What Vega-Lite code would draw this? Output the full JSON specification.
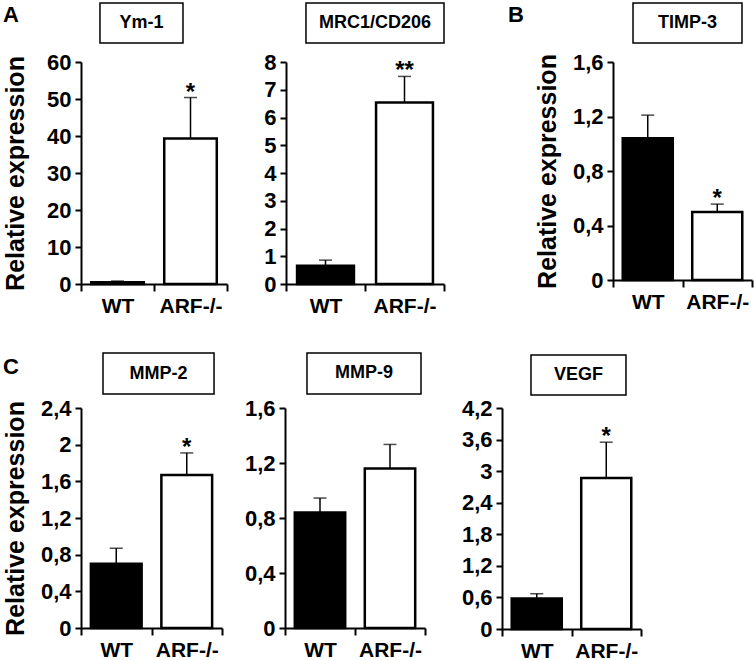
{
  "$schema": "https://vega.github.io/schema/vega-lite/v6.json",
  "padding": {"left": 2, "top": 2, "right": 1, "bottom": 2},
  "background": "white",
  "config": {
    "locale": {"number": {"decimal": ",", "thousands": ".", "grouping": [3], "currency": ["", " €"]}},
    "view": {"stroke": null},
    "font": "Liberation Sans",
    "axis": {
      "domainColor": "black", "domainWidth": 2,
      "tickColor": "black", "tickWidth": 2, "tickSize": 6,
      "labelColor": "black", "labelFont": "Liberation Sans", "labelFontSize": 21, "labelFontWeight": "bold",
      "titleColor": "black", "titleFont": "Liberation Sans", "titleFontSize": 25, "titleFontWeight": "bold",
      "grid": false
    },
    "axisX": {"labelAngle": 0, "tickBand": "extent", "labelPadding": 4, "tickSize": 7},
    "axisY": {"labelPadding": 4, "titlePadding": 19, "format": ".6~g", "labelFontSize": 22, "labelOverlap": false}
  },
  "datasets": {
    "expr": [
      {"panel": "A", "gene": "Ym-1", "genotype": "WT", "mean": 0.5, "upper": 0.8, "sig": ""},
      {"panel": "A", "gene": "Ym-1", "genotype": "ARF-/-", "mean": 39.3, "upper": 50.4, "sig": "*"},
      {"panel": "", "gene": "MRC1/CD206", "genotype": "WT", "mean": 0.66, "upper": 0.86, "sig": ""},
      {"panel": "", "gene": "MRC1/CD206", "genotype": "ARF-/-", "mean": 6.54, "upper": 7.48, "sig": "**"},
      {"panel": "B", "gene": "TIMP-3", "genotype": "WT", "mean": 1.04, "upper": 1.21, "sig": ""},
      {"panel": "B", "gene": "TIMP-3", "genotype": "ARF-/-", "mean": 0.5, "upper": 0.557, "sig": "*"},
      {"panel": "C", "gene": "MMP-2", "genotype": "WT", "mean": 0.7, "upper": 0.87, "sig": ""},
      {"panel": "C", "gene": "MMP-2", "genotype": "ARF-/-", "mean": 1.67, "upper": 1.91, "sig": "*"},
      {"panel": "", "gene": "MMP-9", "genotype": "WT", "mean": 0.84, "upper": 0.945, "sig": ""},
      {"panel": "", "gene": "MMP-9", "genotype": "ARF-/-", "mean": 1.16, "upper": 1.335, "sig": ""},
      {"panel": "", "gene": "VEGF", "genotype": "WT", "mean": 0.58, "upper": 0.67, "sig": ""},
      {"panel": "", "gene": "VEGF", "genotype": "ARF-/-", "mean": 2.87, "upper": 3.55, "sig": "*"}
    ],
    "blank": [{"t": ""}]
  },
  "spacing": 36,
  "vconcat": [
    {
      "bounds": "flush",
      "spacing": 0,
      "hconcat": [
        {
          "width": 146, "height": 222,
          "data": {"name": "expr"},
          "transform": [{"filter": "datum.gene === 'Ym-1'"}],
          "encoding": {"x": {"field": "genotype", "type": "nominal", "sort": ["WT", "ARF-/-"], "scale": {"domain": ["WT", "ARF-/-"], "paddingInner": 0, "paddingOuter": 0}, "axis": {"title": null}}},
          "layer": [
            {"mark": {"type": "bar", "width": {"band": 0.72}, "stroke": "black", "strokeWidth": 2.5},
             "encoding": {"y": {"field": "mean", "type": "quantitative", "scale": {"domain": [0, 60], "nice": false}, "axis": {"values": [0, 10, 20, 30, 40, 50, 60], "title": "Relative expression", "minExtent": 34, "maxExtent": 34}},
                          "fill": {"field": "genotype", "type": "nominal", "scale": {"domain": ["WT", "ARF-/-"], "range": ["black", "white"]}, "legend": null}}},
            {"mark": {"type": "rule", "strokeWidth": 1.5, "color": "black"}, "encoding": {"y": {"field": "mean", "type": "quantitative", "axis": {"values": [0, 10, 20, 30, 40, 50, 60], "title": "Relative expression", "minExtent": 34, "maxExtent": 34}}, "y2": {"field": "upper"}}},
            {"mark": {"type": "tick", "size": 13, "thickness": 1.5, "color": "black"}, "encoding": {"y": {"field": "upper", "type": "quantitative", "axis": {"values": [0, 10, 20, 30, 40, 50, 60], "title": "Relative expression", "minExtent": 34, "maxExtent": 34}}}},
            {"mark": {"type": "text", "fontSize": 24, "fontWeight": "bold", "baseline": "alphabetic", "dy": 2, "color": "black"}, "encoding": {"y": {"field": "upper", "type": "quantitative", "axis": {"values": [0, 10, 20, 30, 40, 50, 60], "title": "Relative expression", "minExtent": 34, "maxExtent": 34}}, "text": {"field": "sig"}}},
            {"transform": [{"filter": "datum.genotype === 'WT'"}], "mark": {"type": "rect", "fill": "transparent", "stroke": "black", "strokeWidth": 1.5},
             "encoding": {"x": {"datum": "WT", "type": "nominal", "bandPosition": 0.26}, "x2": {"datum": "ARF-/-", "bandPosition": 0.397}, "y": {"datum": 75.95, "type": "quantitative", "axis": {"values": [0, 10, 20, 30, 40, 50, 60], "title": "Relative expression", "minExtent": 34, "maxExtent": 34}}, "y2": {"datum": 65.14}}},
            {"transform": [{"filter": "datum.genotype === 'WT'"}], "mark": {"type": "text", "fontSize": 18, "fontWeight": "bold", "baseline": "middle", "color": "black"},
             "encoding": {"x": {"datum": "WT", "type": "nominal", "bandPosition": 0.829}, "y": {"datum": 70.54, "type": "quantitative", "axis": {"values": [0, 10, 20, 30, 40, 50, 60], "title": "Relative expression", "minExtent": 34, "maxExtent": 34}}, "text": {"field": "gene"}}},
            {"transform": [{"filter": "datum.genotype === 'WT'"}], "mark": {"type": "text", "fontSize": 22, "fontWeight": "bold", "baseline": "alphabetic", "dx": -70, "dy": -40, "color": "black"},
             "encoding": {"x": {"datum": "WT", "type": "nominal", "bandPosition": 0}, "y": {"datum": 60, "type": "quantitative", "axis": {"values": [0, 10, 20, 30, 40, 50, 60], "title": "Relative expression", "minExtent": 34, "maxExtent": 34}}, "text": {"field": "panel"}}}
          ]
        },
        {"width": 59, "height": 222, "data": {"name": "blank"}, "mark": "text", "encoding": {"text": {"field": "t"}}},
        {
          "width": 158, "height": 222,
          "data": {"name": "expr"},
          "transform": [{"filter": "datum.gene === 'MRC1/CD206'"}],
          "encoding": {"x": {"field": "genotype", "type": "nominal", "sort": ["WT", "ARF-/-"], "scale": {"domain": ["WT", "ARF-/-"], "paddingInner": 0, "paddingOuter": 0}, "axis": {"title": null}}},
          "layer": [
            {"mark": {"type": "bar", "width": {"band": 0.72}, "stroke": "black", "strokeWidth": 2.5},
             "encoding": {"y": {"field": "mean", "type": "quantitative", "scale": {"domain": [0, 8], "nice": false}, "axis": {"values": [0, 1, 2, 3, 4, 5, 6, 7, 8], "title": null}},
                          "fill": {"field": "genotype", "type": "nominal", "scale": {"domain": ["WT", "ARF-/-"], "range": ["black", "white"]}, "legend": null}}},
            {"mark": {"type": "rule", "strokeWidth": 1.5, "color": "black"}, "encoding": {"y": {"field": "mean", "type": "quantitative", "axis": {"values": [0, 1, 2, 3, 4, 5, 6, 7, 8], "title": null}}, "y2": {"field": "upper"}}},
            {"mark": {"type": "tick", "size": 13, "thickness": 1.5, "color": "black"}, "encoding": {"y": {"field": "upper", "type": "quantitative", "axis": {"values": [0, 1, 2, 3, 4, 5, 6, 7, 8], "title": null}}}},
            {"mark": {"type": "text", "fontSize": 24, "fontWeight": "bold", "baseline": "alphabetic", "dy": 2, "color": "black"}, "encoding": {"y": {"field": "upper", "type": "quantitative", "axis": {"values": [0, 1, 2, 3, 4, 5, 6, 7, 8], "title": null}}, "text": {"field": "sig"}}},
            {"transform": [{"filter": "datum.genotype === 'WT'"}], "mark": {"type": "rect", "fill": "transparent", "stroke": "black", "strokeWidth": 1.5},
             "encoding": {"x": {"datum": "WT", "type": "nominal", "bandPosition": 0.253}, "x2": {"datum": "ARF-/-", "bandPosition": 1.0}, "y": {"datum": 10.126, "type": "quantitative", "axis": {"values": [0, 1, 2, 3, 4, 5, 6, 7, 8], "title": null}}, "y2": {"datum": 8.685}}},
            {"transform": [{"filter": "datum.genotype === 'WT'"}], "mark": {"type": "text", "fontSize": 18, "fontWeight": "bold", "baseline": "middle", "color": "black"},
             "encoding": {"x": {"datum": "ARF-/-", "type": "nominal", "bandPosition": 0.127}, "y": {"datum": 9.405, "type": "quantitative", "axis": {"values": [0, 1, 2, 3, 4, 5, 6, 7, 8], "title": null}}, "text": {"field": "gene"}}}
          ]
        },
        {"width": 169, "height": 222, "data": {"name": "blank"}, "mark": "text", "encoding": {"text": {"field": "t"}}},
        {
          "width": 139, "height": 218,
          "data": {"name": "expr"},
          "transform": [{"filter": "datum.gene === 'TIMP-3'"}],
          "encoding": {"x": {"field": "genotype", "type": "nominal", "sort": ["WT", "ARF-/-"], "scale": {"domain": ["WT", "ARF-/-"], "paddingInner": 0, "paddingOuter": 0}, "axis": {"title": null}}},
          "layer": [
            {"mark": {"type": "bar", "width": {"band": 0.72}, "stroke": "black", "strokeWidth": 2.5},
             "encoding": {"y": {"field": "mean", "type": "quantitative", "scale": {"domain": [0, 1.6], "nice": false}, "axis": {"values": [0, 0.4, 0.8, 1.2, 1.6], "title": "Relative expression", "minExtent": 34, "maxExtent": 34}},
                          "fill": {"field": "genotype", "type": "nominal", "scale": {"domain": ["WT", "ARF-/-"], "range": ["black", "white"]}, "legend": null}}},
            {"mark": {"type": "rule", "strokeWidth": 1.5, "color": "black"}, "encoding": {"y": {"field": "mean", "type": "quantitative", "axis": {"values": [0, 0.4, 0.8, 1.2, 1.6], "title": "Relative expression", "minExtent": 34, "maxExtent": 34}}, "y2": {"field": "upper"}}},
            {"mark": {"type": "tick", "size": 13, "thickness": 1.5, "color": "black"}, "encoding": {"y": {"field": "upper", "type": "quantitative", "axis": {"values": [0, 0.4, 0.8, 1.2, 1.6], "title": "Relative expression", "minExtent": 34, "maxExtent": 34}}}},
            {"mark": {"type": "text", "fontSize": 24, "fontWeight": "bold", "baseline": "alphabetic", "dy": 2, "color": "black"}, "encoding": {"y": {"field": "upper", "type": "quantitative", "axis": {"values": [0, 0.4, 0.8, 1.2, 1.6], "title": "Relative expression", "minExtent": 34, "maxExtent": 34}}, "text": {"field": "sig"}}},
            {"transform": [{"filter": "datum.genotype === 'WT'"}], "mark": {"type": "rect", "fill": "transparent", "stroke": "black", "strokeWidth": 1.5},
             "encoding": {"x": {"datum": "WT", "type": "nominal", "bandPosition": 0.288}, "x2": {"datum": "ARF-/-", "bandPosition": 0.856}, "y": {"datum": 2.033, "type": "quantitative", "axis": {"values": [0, 0.4, 0.8, 1.2, 1.6], "title": "Relative expression", "minExtent": 34, "maxExtent": 34}}, "y2": {"datum": 1.7394}}},
            {"transform": [{"filter": "datum.genotype === 'WT'"}], "mark": {"type": "text", "fontSize": 18, "fontWeight": "bold", "baseline": "middle", "color": "black"},
             "encoding": {"x": {"datum": "ARF-/-", "type": "nominal", "bandPosition": 0.072}, "y": {"datum": 1.886, "type": "quantitative", "axis": {"values": [0, 0.4, 0.8, 1.2, 1.6], "title": "Relative expression", "minExtent": 34, "maxExtent": 34}}, "text": {"field": "gene"}}},
            {"transform": [{"filter": "datum.genotype === 'WT'"}], "mark": {"type": "text", "fontSize": 22, "fontWeight": "bold", "baseline": "alphabetic", "dx": -97, "dy": -40, "color": "black"},
             "encoding": {"x": {"datum": "WT", "type": "nominal", "bandPosition": 0}, "y": {"datum": 1.6, "type": "quantitative", "axis": {"values": [0, 0.4, 0.8, 1.2, 1.6], "title": "Relative expression", "minExtent": 34, "maxExtent": 34}}, "text": {"field": "panel"}}}
          ]
        }
      ]
    },
    {
      "bounds": "flush",
      "spacing": 0,
      "hconcat": [
        {
          "width": 141, "height": 220,
          "data": {"name": "expr"},
          "transform": [{"filter": "datum.gene === 'MMP-2'"}],
          "encoding": {"x": {"field": "genotype", "type": "nominal", "sort": ["WT", "ARF-/-"], "scale": {"domain": ["WT", "ARF-/-"], "paddingInner": 0, "paddingOuter": 0}, "axis": {"title": null}}},
          "layer": [
            {"mark": {"type": "bar", "width": {"band": 0.72}, "stroke": "black", "strokeWidth": 2.5},
             "encoding": {"y": {"field": "mean", "type": "quantitative", "scale": {"domain": [0, 2.4], "nice": false}, "axis": {"values": [0, 0.4, 0.8, 1.2, 1.6, 2, 2.4], "title": "Relative expression", "minExtent": 34, "maxExtent": 34}},
                          "fill": {"field": "genotype", "type": "nominal", "scale": {"domain": ["WT", "ARF-/-"], "range": ["black", "white"]}, "legend": null}}},
            {"mark": {"type": "rule", "strokeWidth": 1.5, "color": "black"}, "encoding": {"y": {"field": "mean", "type": "quantitative", "axis": {"values": [0, 0.4, 0.8, 1.2, 1.6, 2, 2.4], "title": "Relative expression", "minExtent": 34, "maxExtent": 34}}, "y2": {"field": "upper"}}},
            {"mark": {"type": "tick", "size": 13, "thickness": 1.5, "color": "black"}, "encoding": {"y": {"field": "upper", "type": "quantitative", "axis": {"values": [0, 0.4, 0.8, 1.2, 1.6, 2, 2.4], "title": "Relative expression", "minExtent": 34, "maxExtent": 34}}}},
            {"mark": {"type": "text", "fontSize": 24, "fontWeight": "bold", "baseline": "alphabetic", "dy": 2, "color": "black"}, "encoding": {"y": {"field": "upper", "type": "quantitative", "axis": {"values": [0, 0.4, 0.8, 1.2, 1.6, 2, 2.4], "title": "Relative expression", "minExtent": 34, "maxExtent": 34}}, "text": {"field": "sig"}}},
            {"transform": [{"filter": "datum.genotype === 'WT'"}], "mark": {"type": "rect", "fill": "transparent", "stroke": "black", "strokeWidth": 1.5},
             "encoding": {"x": {"datum": "WT", "type": "nominal", "bandPosition": 0.312}, "x2": {"datum": "ARF-/-", "bandPosition": 0.887}, "y": {"datum": 3.0, "type": "quantitative", "axis": {"values": [0, 0.4, 0.8, 1.2, 1.6, 2, 2.4], "title": "Relative expression", "minExtent": 34, "maxExtent": 34}}, "y2": {"datum": 2.5527}}},
            {"transform": [{"filter": "datum.genotype === 'WT'"}], "mark": {"type": "text", "fontSize": 18, "fontWeight": "bold", "baseline": "middle", "color": "black"},
             "encoding": {"x": {"datum": "ARF-/-", "type": "nominal", "bandPosition": 0.099}, "y": {"datum": 2.776, "type": "quantitative", "axis": {"values": [0, 0.4, 0.8, 1.2, 1.6, 2, 2.4], "title": "Relative expression", "minExtent": 34, "maxExtent": 34}}, "text": {"field": "gene"}}},
            {"transform": [{"filter": "datum.genotype === 'WT'"}], "mark": {"type": "text", "fontSize": 22, "fontWeight": "bold", "baseline": "alphabetic", "dx": -70, "dy": -34, "color": "black"},
             "encoding": {"x": {"datum": "WT", "type": "nominal", "bandPosition": 0}, "y": {"datum": 2.4, "type": "quantitative", "axis": {"values": [0, 0.4, 0.8, 1.2, 1.6, 2, 2.4], "title": "Relative expression", "minExtent": 34, "maxExtent": 34}}, "text": {"field": "panel"}}}
          ]
        },
        {"width": 63, "height": 220, "data": {"name": "blank"}, "mark": "text", "encoding": {"text": {"field": "t"}}},
        {
          "width": 140, "height": 220,
          "data": {"name": "expr"},
          "transform": [{"filter": "datum.gene === 'MMP-9'"}],
          "encoding": {"x": {"field": "genotype", "type": "nominal", "sort": ["WT", "ARF-/-"], "scale": {"domain": ["WT", "ARF-/-"], "paddingInner": 0, "paddingOuter": 0}, "axis": {"title": null}}},
          "layer": [
            {"mark": {"type": "bar", "width": {"band": 0.72}, "stroke": "black", "strokeWidth": 2.5},
             "encoding": {"y": {"field": "mean", "type": "quantitative", "scale": {"domain": [0, 1.6], "nice": false}, "axis": {"values": [0, 0.4, 0.8, 1.2, 1.6], "title": null}},
                          "fill": {"field": "genotype", "type": "nominal", "scale": {"domain": ["WT", "ARF-/-"], "range": ["black", "white"]}, "legend": null}}},
            {"mark": {"type": "rule", "strokeWidth": 1.5, "color": "black"}, "encoding": {"y": {"field": "mean", "type": "quantitative", "axis": {"values": [0, 0.4, 0.8, 1.2, 1.6], "title": null}}, "y2": {"field": "upper"}}},
            {"mark": {"type": "tick", "size": 13, "thickness": 1.5, "color": "black"}, "encoding": {"y": {"field": "upper", "type": "quantitative", "axis": {"values": [0, 0.4, 0.8, 1.2, 1.6], "title": null}}}},
            {"mark": {"type": "text", "fontSize": 24, "fontWeight": "bold", "baseline": "alphabetic", "dy": 2, "color": "black"}, "encoding": {"y": {"field": "upper", "type": "quantitative", "axis": {"values": [0, 0.4, 0.8, 1.2, 1.6], "title": null}}, "text": {"field": "sig"}}},
            {"transform": [{"filter": "datum.genotype === 'WT'"}], "mark": {"type": "rect", "fill": "transparent", "stroke": "black", "strokeWidth": 1.5},
             "encoding": {"x": {"datum": "WT", "type": "nominal", "bandPosition": 0.314}, "x2": {"datum": "ARF-/-", "bandPosition": 0.943}, "y": {"datum": 2.0, "type": "quantitative", "axis": {"values": [0, 0.4, 0.8, 1.2, 1.6], "title": null}}, "y2": {"datum": 1.7018}}},
            {"transform": [{"filter": "datum.genotype === 'WT'"}], "mark": {"type": "text", "fontSize": 18, "fontWeight": "bold", "baseline": "middle", "color": "black"},
             "encoding": {"x": {"datum": "ARF-/-", "type": "nominal", "bandPosition": 0.129}, "y": {"datum": 1.851, "type": "quantitative", "axis": {"values": [0, 0.4, 0.8, 1.2, 1.6], "title": null}}, "text": {"field": "gene"}}}
          ]
        },
        {"width": 77, "height": 220, "data": {"name": "blank"}, "mark": "text", "encoding": {"text": {"field": "t"}}},
        {
          "width": 139, "height": 221,
          "data": {"name": "expr"},
          "transform": [{"filter": "datum.gene === 'VEGF'"}],
          "encoding": {"x": {"field": "genotype", "type": "nominal", "sort": ["WT", "ARF-/-"], "scale": {"domain": ["WT", "ARF-/-"], "paddingInner": 0, "paddingOuter": 0}, "axis": {"title": null}}},
          "layer": [
            {"mark": {"type": "bar", "width": {"band": 0.72}, "stroke": "black", "strokeWidth": 2.5},
             "encoding": {"y": {"field": "mean", "type": "quantitative", "scale": {"domain": [0, 4.2], "nice": false}, "axis": {"values": [0, 0.6, 1.2, 1.8, 2.4, 3, 3.6, 4.2], "title": null}},
                          "fill": {"field": "genotype", "type": "nominal", "scale": {"domain": ["WT", "ARF-/-"], "range": ["black", "white"]}, "legend": null}}},
            {"mark": {"type": "rule", "strokeWidth": 1.5, "color": "black"}, "encoding": {"y": {"field": "mean", "type": "quantitative", "axis": {"values": [0, 0.6, 1.2, 1.8, 2.4, 3, 3.6, 4.2], "title": null}}, "y2": {"field": "upper"}}},
            {"mark": {"type": "tick", "size": 13, "thickness": 1.5, "color": "black"}, "encoding": {"y": {"field": "upper", "type": "quantitative", "axis": {"values": [0, 0.6, 1.2, 1.8, 2.4, 3, 3.6, 4.2], "title": null}}}},
            {"mark": {"type": "text", "fontSize": 24, "fontWeight": "bold", "baseline": "alphabetic", "dy": 2, "color": "black"}, "encoding": {"y": {"field": "upper", "type": "quantitative", "axis": {"values": [0, 0.6, 1.2, 1.8, 2.4, 3, 3.6, 4.2], "title": null}}, "text": {"field": "sig"}}},
            {"transform": [{"filter": "datum.genotype === 'WT'"}], "mark": {"type": "rect", "fill": "transparent", "stroke": "black", "strokeWidth": 1.5},
             "encoding": {"x": {"datum": "WT", "type": "nominal", "bandPosition": 0.417}, "x2": {"datum": "ARF-/-", "bandPosition": 0.784}, "y": {"datum": 5.207, "type": "quantitative", "axis": {"values": [0, 0.6, 1.2, 1.8, 2.4, 3, 3.6, 4.2], "title": null}}, "y2": {"datum": 4.447}}},
            {"transform": [{"filter": "datum.genotype === 'WT'"}], "mark": {"type": "text", "fontSize": 18, "fontWeight": "bold", "baseline": "middle", "color": "black"},
             "encoding": {"x": {"datum": "ARF-/-", "type": "nominal", "bandPosition": 0.101}, "y": {"datum": 4.827, "type": "quantitative", "axis": {"values": [0, 0.6, 1.2, 1.8, 2.4, 3, 3.6, 4.2], "title": null}}, "text": {"field": "gene"}}}
          ]
        }
      ]
    }
  ]
}
